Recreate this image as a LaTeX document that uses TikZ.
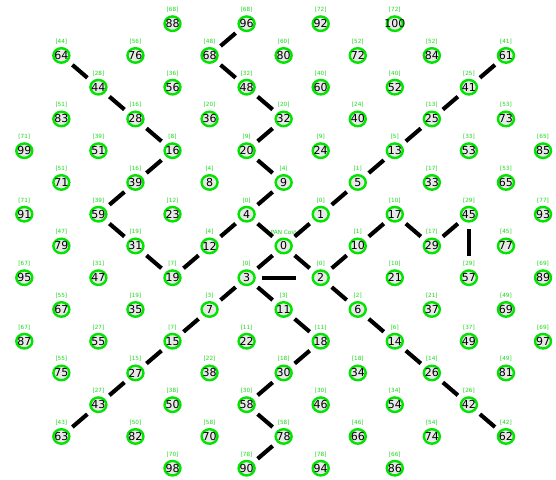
\documentclass[tikz,border=0pt]{standalone}
\usepackage{fontspec}
\usetikzlibrary{shapes.geometric}
\newfontfamily\numfont{DejaVu Sans}
\definecolor{ringgreen}{RGB}{0,228,0}
\definecolor{lblgreen}{RGB}{30,215,30}
\definecolor{nodefill}{RGB}{232,232,232}
\tikzset{
  gnode/.style={ellipse, draw=ringgreen, line width=2.4pt, fill=nodefill,
    minimum width=16pt, minimum height=14.5pt, inner sep=0pt,
    font=\numfont\fontsize{11}{11}\selectfont},
  lbl/.style={text=lblgreen, inner sep=0pt, font=\numfont\fontsize{5.7}{5.7}\selectfont},
  edge/.style={line width=4.1pt, black, shorten <=14.5pt, shorten >=14.5pt},
}
\begin{document}
\begin{tikzpicture}[x=1pt,y=-1pt]
\fill[white] (0,0) rectangle (556,479);
\useasboundingbox (0,0) rectangle (556,479);
\foreach \n/\c/\r/\p in {
 88/4/0/68, 96/6/0/68, 92/8/0/72, 100/10/0/72,
 64/1/1/44, 76/3/1/56, 68/5/1/48, 80/7/1/60, 72/9/1/52, 84/11/1/52, 61/13/1/41,
 44/2/2/28, 56/4/2/36, 48/6/2/32, 60/8/2/40, 52/10/2/40, 41/12/2/25,
 83/1/3/51, 28/3/3/16, 36/5/3/20, 32/7/3/20, 40/9/3/24, 25/11/3/13, 73/13/3/53,
 99/0/4/71, 51/2/4/39, 16/4/4/8, 20/6/4/9, 24/8/4/9, 13/10/4/5, 53/12/4/33, 85/14/4/65,
 71/1/5/51, 39/3/5/16, 8/5/5/4, 9/7/5/4, 5/9/5/1, 33/11/5/17, 65/13/5/53,
 91/0/6/71, 59/2/6/39, 23/4/6/12, 4/6/6/0, 1/8/6/0, 17/10/6/10, 45/12/6/29, 93/14/6/77,
 79/1/7/47, 31/3/7/19, 12/5/7/4, 10/9/7/1, 29/11/7/17, 77/13/7/45,
 95/0/8/67, 47/2/8/31, 19/4/8/7, 3/6/8/0, 2/8/8/0, 21/10/8/10, 57/12/8/29, 89/14/8/69,
 67/1/9/55, 35/3/9/19, 7/5/9/3, 11/7/9/3, 6/9/9/2, 37/11/9/21, 69/13/9/49,
 87/0/10/67, 55/2/10/27, 15/4/10/7, 22/6/10/11, 18/8/10/11, 14/10/10/6, 49/12/10/37, 97/14/10/69,
 75/1/11/55, 27/3/11/15, 38/5/11/22, 30/7/11/18, 34/9/11/18, 26/11/11/14, 81/13/11/49,
 43/2/12/27, 50/4/12/38, 58/6/12/30, 46/8/12/30, 54/10/12/34, 42/12/12/26,
 63/1/13/43, 82/3/13/50, 70/5/13/58, 78/7/13/58, 66/9/13/46, 74/11/13/54, 62/13/13/42,
 98/4/14/70, 90/6/14/78, 94/8/14/78, 86/10/14/66}{
  \node[gnode] (n\n) at ({24.3+37.05*\c},{23.7+31.75*\r}) {\makebox[0pt]{\n}};
  \node[lbl] (l\n) at ([yshift=13.8pt]n\n.center) {[\p]};
}
\node[gnode] (n0) at ({24.3+37.05*7},{23.7+31.75*7}) {\makebox[0pt]{0}};
\node[lbl] (l0) at ([yshift=13.8pt]n0.center) {PAN Cost};
\foreach \a/\b in {
 96/68, 68/48, 48/32, 32/20, 20/9, 9/4, 4/0, 4/12, 12/19, 19/31, 31/59, 59/39, 39/16, 16/28, 28/44, 44/64,
 0/1, 1/5, 5/13, 13/25, 25/41, 41/61,
 0/3, 0/2, 2/10, 10/17, 17/29, 29/45,
 2/6, 6/14, 14/26, 26/42, 42/62,
 3/11, 11/18, 18/30, 30/58, 58/78, 78/90,
 3/7, 7/15, 15/27, 27/43, 43/63}{
  \draw[edge] (n\a.center) -- (n\b.center);
}
\draw[edge, shorten <=15pt, shorten >=24.5pt, yshift=2.5pt] (n3.center) -- (n2.center);
\draw[edge, shorten <=14.8pt, shorten >=21.5pt, xshift=1.5pt] (n45.center) -- (n57.center);
\end{tikzpicture}
\end{document}
